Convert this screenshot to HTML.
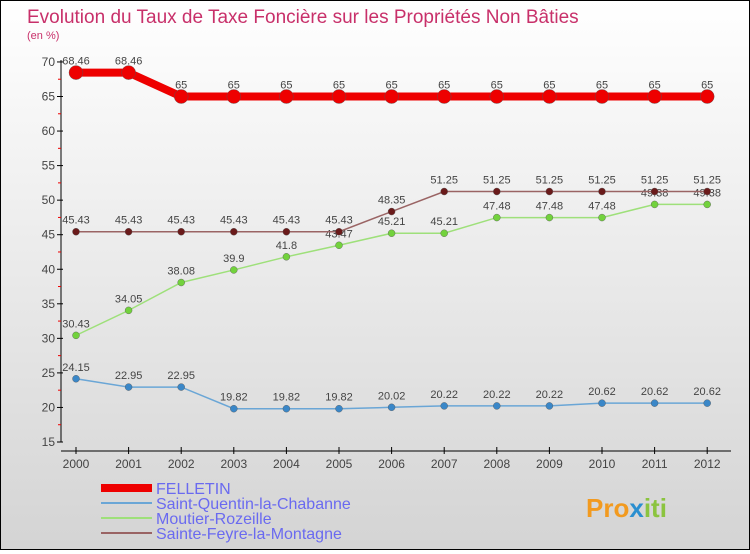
<!DOCTYPE html>
<html><head><meta charset="utf-8"><style>
body{margin:0}
#c{width:748px;height:548px;border:1px solid #000;background:linear-gradient(#ffffff,#d4d4d4);position:relative;font-family:"Liberation Sans",sans-serif}
text{font-family:"Liberation Sans",sans-serif}
</style></head><body>
<div id="c">
<svg width="748" height="548" id="s">
<text x="26" y="22" font-size="19" fill="#c8306a">Evolution du Taux de Taxe Foncière sur les Propriétés Non Bâties</text>
<text x="26" y="38" font-size="11" fill="#c8306a">(en %)</text>
<g id="g"></g>
<text x="585" y="516" font-size="26" font-weight="bold" fill="#f29a1f">Pro<tspan fill="#2a8fd0">x</tspan><tspan fill="#8bc43f">iti</tspan></text>
</svg>
</div>
<script>
const years=[2000,2001,2002,2003,2004,2005,2006,2007,2008,2009,2010,2011,2012];
const felletin=[68.46,68.46,65,65,65,65,65,65,65,65,65,65,65];
const stQuentin=[24.15,22.95,22.95,19.82,19.82,19.82,20.02,20.22,20.22,20.22,20.62,20.62,20.62];
const moutier=[30.43,34.05,38.08,39.9,41.8,43.47,45.21,45.21,47.48,47.48,47.48,49.38,49.38];
const steFeyre=[45.43,45.43,45.43,45.43,45.43,45.43,48.35,51.25,51.25,51.25,51.25,51.25,51.25];
const yTicks=[15,20,25,30,35,40,45,50,55,60,65,70];
const NS="http://www.w3.org/2000/svg";
const g=document.getElementById('g');
const X=i=>75+i*52.6;
const Y=v=>441-(v-15)*6.91;
function el(t,a,p){const e=document.createElementNS(NS,t);for(const k in a)e.setAttribute(k,a[k]);(p||g).appendChild(e);return e;}
let ax=el('line',{x1:60,y1:59,x2:60,y2:441,stroke:'#000'});


let xa=el('line',{x1:60,y1:450,x2:730,y2:450,stroke:'#000'});


yTicks.forEach(v=>{
 el('line',{x1:56,y1:Y(v),x2:62,y2:Y(v),stroke:'#000'});
 if(v<70) el('line',{x1:57,y1:Y(v+2.5),x2:60,y2:Y(v+2.5),stroke:'#e00'});
 const t=el('text',{x:54,y:Y(v)+4,'font-size':12,fill:'#444','text-anchor':'end'});t.textContent=v;
 
 
});
years.forEach((yr,i)=>{
 el('line',{x1:X(i),y1:446,x2:X(i),y2:453,stroke:'#000'});
 const t=el('text',{x:X(i),y:467,'font-size':12,fill:'#444','text-anchor':'middle'});t.textContent=yr;
 
 
});
function series(data,col,dot,w,r,name){
 const pl=el('polyline',{points:data.map((v,i)=>X(i)+','+Y(v)).join(' '),fill:'none',stroke:col,'stroke-width':w});
 
 
 data.forEach((v,i)=>{
  const c=el('circle',{cx:X(i),cy:Y(v),r:r,fill:dot,stroke:'#555','stroke-width':0.4});
  
  
  const t=el('text',{x:X(i),y:Y(v)-8,'font-size':11,fill:'#444','text-anchor':'middle'});t.textContent=v;
  
  
 });
}
series(stQuentin,'#6aa6d6','#3a87c8',1.5,3.5,'saint-quentin');
series(moutier,'#9ee07a','#72d23c',1.5,3.5,'moutier');
series(steFeyre,'#9a6464','#6a1a1a',1.5,3.5,'sainte-feyre');
series(felletin,'#e00','#e00',8,7,'felletin');
const leg=[['FELLETIN','#e00',8],['Saint-Quentin-la-Chabanne','#6aa6d6',2],['Moutier-Rozeille','#9ee07a',2],['Sainte-Feyre-la-Montagne','#9a6464',2]];
const ly=[493,508,523,538];
leg.forEach((l,i)=>{
 const ln=el('line',{x1:100,y1:ly[i]-6,x2:151,y2:ly[i]-6,stroke:l[1],'stroke-width':l[2]});
 
 
 const t=el('text',{x:155,y:ly[i],'font-size':16,fill:'#6a6af0'});t.textContent=l[0];
 
 
});
</script>
</body></html>
